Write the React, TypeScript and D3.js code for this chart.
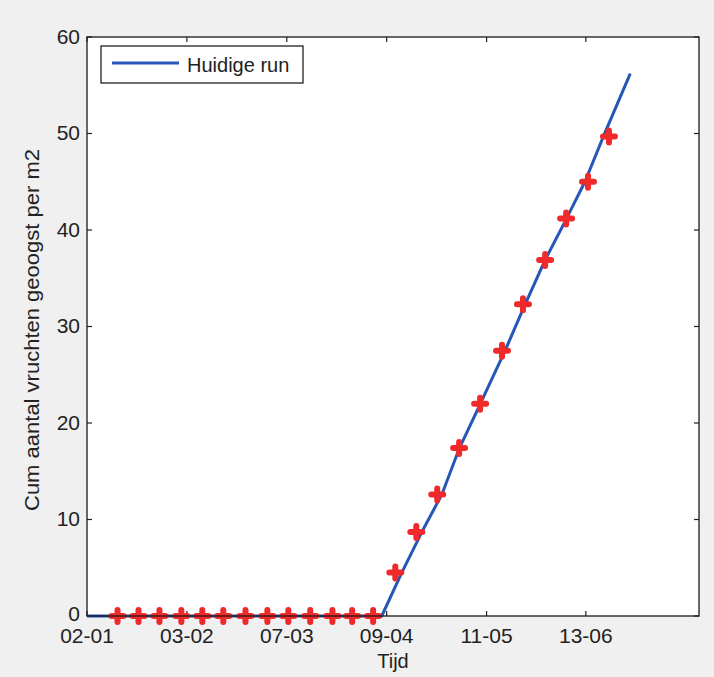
import React from "react";
import * as d3 from "d3";

// x values are days since 02-01 (2 January)
const xTickDays = [0, 32.4, 64.8, 97.2, 129.6, 161.8];
const xTickLabels = ["02-01", "03-02", "07-03", "09-04", "11-05", "13-06"];
const yTicks = [0, 10, 20, 30, 40, 50, 60];

const lineDays = [0, 95.6, 102.1, 108.6, 115.1, 120.8, 127.6, 135.6, 142.1, 148.6, 155.4, 161.5, 167.5, 176.2];
const lineValues = [0, 0, 4.5, 8.7, 12.6, 17.4, 22.0, 27.5, 32.3, 36.9, 41.1, 45.0, 49.7, 56.2];

const markerDays = [9.9, 16.7, 23.5, 30.6, 37.4, 44.2, 51.4, 58.5, 65.3, 72.4, 79.6, 86.0, 92.8, 100.0, 106.8, 113.6, 120.7, 127.5, 134.6, 141.4, 148.6, 155.4, 162.5, 169.3];
const markerValues = [0, 0, 0, 0, 0, 0, 0, 0, 0, 0, 0, 0, 0, 4.5, 8.7, 12.6, 17.4, 22.0, 27.5, 32.3, 36.9, 41.2, 45.0, 49.7];

const W = 714;
const H = 677;
const L = 87, R = 699, T = 37, B = 616;
const FONT = "'Liberation Sans', Arial, sans-serif";
const TXT = "#222";

export default function App() {
  const x = d3.scaleLinear().domain([0, 198.5]).range([L, R]);
  const y = d3.scaleLinear().domain([0, 60]).range([B, T]);
  const line = d3
    .line<number>()
    .x((_, i) => x(lineDays[i]))
    .y((d) => y(d));
  const tl = 5;
  const ms = 6;
  const dm = 5;
  return (
    <svg
      width={W}
      height={H}
      style={{ position: "fixed", left: 0, top: 0, background: "#f0f0f0" }}
      fontFamily={FONT}
    >
      <rect x={0} y={0} width={W} height={H} fill="#f0f0f0" />
      <rect x={L} y={T} width={R - L} height={B - T} fill="#fff" />
      {/* ticks */}
      {xTickDays.map((d, i) => (
        <g key={"xt" + i}>
          <line x1={x(d)} x2={x(d)} y1={B} y2={B - tl} stroke="#222" strokeWidth={1.2} />
          <line x1={x(d)} x2={x(d)} y1={T} y2={T + tl} stroke="#222" strokeWidth={1.2} />
          <text x={x(d)} y={643} textAnchor="middle" fontSize={21} fill={TXT}>
            {xTickLabels[i]}
          </text>
        </g>
      ))}
      {yTicks.map((v) => (
        <g key={"yt" + v}>
          <line x1={L} x2={L + tl} y1={y(v)} y2={y(v)} stroke="#222" strokeWidth={1.2} />
          <line x1={R} x2={R - tl} y1={y(v)} y2={y(v)} stroke="#222" strokeWidth={1.2} />
          <text x={80} y={y(v) + (v === 0 ? 5 : 6.5)} textAnchor="end" fontSize={21} fill={TXT}>
            {v}
          </text>
        </g>
      ))}
      {/* data line */}
      <path d={line(lineValues) || ""} fill="none" stroke="#2656b8" strokeWidth={3} strokeLinejoin="round" />
      {/* markers */}
      {markerDays.map((d, i) => {
        const cx = x(d);
        const cy = y(markerValues[i]);
        return (
          <g key={"m" + i}>
            <path
              d={`M${cx - ms},${cy}L${cx + ms},${cy}M${cx},${cy - ms}L${cx},${cy + ms}`}
              stroke="#f02a2a"
              strokeWidth={6}
              strokeLinecap="round"
              fill="none"
            />
            <path
              d={`M${cx - dm},${cy}L${cx},${cy - dm}L${cx + dm},${cy}L${cx},${cy + dm}Z`}
              fill="#f02a2a"
            />
          </g>
        );
      })}
      {/* frame */}
      <rect x={L} y={T} width={R - L} height={B - T} fill="none" stroke="#1a1a1a" strokeWidth={1.3} />
      {/* legend */}
      <rect x={101} y={46} width={202} height={37} fill="#fff" stroke="#222" strokeWidth={1.3} />
      <line x1={112} x2={179} y1={63} y2={63} stroke="#2656b8" strokeWidth={3} />
      <text x={187} y={72} fontSize={20} fill={TXT}>
        Huidige run
      </text>
      {/* axis labels */}
      <text x={393} y={668} textAnchor="middle" fontSize={20} fill={TXT}>
        Tijd
      </text>
      <text
        transform={`translate(39,330) rotate(-90)`}
        textAnchor="middle"
        fontSize={20}
        fill={TXT}
        textLength={362}
        lengthAdjust="spacingAndGlyphs"
      >
        Cum aantal vruchten geoogst per m2
      </text>
    </svg>
  );
}
